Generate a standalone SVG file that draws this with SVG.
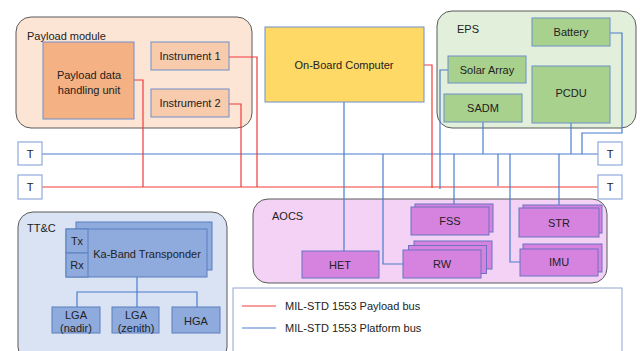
<svg xmlns="http://www.w3.org/2000/svg" width="640" height="351" viewBox="0 0 640 351">
<style>
text{font-family:"Liberation Sans",Arial,sans-serif;font-size:11px;fill:#222;}
.c{text-anchor:middle;dominant-baseline:central;}
.grp{stroke:#5a5a5a;stroke-width:1;}
.box{stroke:#6f8fc8;stroke-width:1;}
.r{stroke:#f23a3a;stroke-width:1.2;fill:none;}
.b{stroke:#4a7cce;stroke-width:1.2;fill:none;}
.pl{fill:#f8cbad;}
.eps{fill:#a9d18e;}
.ao{fill:#d683df;stroke:#6a72c4;}
.tt{fill:#8faadc;stroke:#5b7fc0;}
.t{fill:#fff;stroke:#8faadc;stroke-width:1.2;}
</style>
<rect width="640" height="351" fill="#fff"/>

<g id="payload-module">
<rect class="grp" x="16" y="17" width="236" height="111" rx="15" fill="#fde5d6"/>
<text x="27" y="36" dominant-baseline="central">Payload module</text>
</g>
<g id="eps">
<rect class="grp" x="437" y="11" width="199" height="117" rx="15" fill="#e2efda"/>
<text x="457" y="29" dominant-baseline="central">EPS</text>
</g>
<g id="aocs">
<rect class="grp" x="253" y="199" width="354" height="84" rx="15" fill="#f3d2f6"/>
<text x="272" y="216" dominant-baseline="central">AOCS</text>
</g>
<g id="ttc">
<rect class="grp" x="18" y="212" width="209" height="150" rx="15" fill="#dae3f3"/>
<text x="27" y="228" dominant-baseline="central">TT&amp;C</text>
</g>

<g id="connectors">
<!-- buses -->
<line class="b" x1="42" y1="154" x2="598" y2="154"/>
<line class="r" x1="42" y1="187" x2="598" y2="187"/>
<!-- payload bus -->
<polyline class="r" points="134,80 143,80 143,187"/>
<polyline class="r" points="229,57 257,57 257,187"/>
<polyline class="r" points="229,104 241,104 241,187"/>
<polyline class="r" points="424,65 432,65 432,188"/>
<!-- platform bus -->
<line class="b" x1="344" y1="102" x2="344" y2="251"/>
<polyline class="b" points="448,70 440,70 440,189"/>
<polyline class="b" points="610,33 622,33 622,133 582,133 582,154"/>
<line class="b" x1="571" y1="123" x2="571" y2="154"/>
<line class="b" x1="483" y1="122" x2="483" y2="154"/>
<line class="b" x1="498" y1="154" x2="498" y2="186"/>
<line class="b" x1="454" y1="154" x2="454" y2="204"/>
<line class="b" x1="559" y1="154" x2="559" y2="205"/>
<polyline class="b" points="383,154 383,264 403,264"/>
<polyline class="b" points="510,154 510,262 520,262"/>
<!-- TT&C -->
<line class="b" x1="137" y1="277" x2="137" y2="307" stroke-width="0.8"/>
<polyline class="b" points="77,307 77,292 197,292 197,307" stroke-width="0.8"/>
</g>

<g id="pdhu"><rect class="box" x="43" y="42" width="91" height="77" fill="#f4b183"/>
<text class="c" x="89" y="75">Payload data</text><text class="c" x="89" y="90">handling unit</text></g>
<g id="instrument-1"><rect class="box pl" x="151" y="42" width="78" height="28"/><text class="c" x="190" y="56">Instrument 1</text></g>
<g id="instrument-2"><rect class="box pl" x="151" y="89" width="78" height="28"/><text class="c" x="190" y="103">Instrument 2</text></g>

<g id="obc"><rect class="box" x="265" y="27" width="159" height="75" fill="#ffd966"/><text class="c" x="344" y="65">On-Board Computer</text></g>

<g id="battery"><rect class="box eps" x="532" y="18" width="78" height="28"/><text class="c" x="571" y="32">Battery</text></g>
<g id="solar-array"><rect class="box eps" x="448" y="56" width="78" height="27"/><text class="c" x="487" y="70">Solar Array</text></g>
<g id="sadm"><rect class="box eps" x="444" y="94" width="78" height="28"/><text class="c" x="483" y="108">SADM</text></g>
<g id="pcdu"><rect class="box eps" x="532" y="66" width="78" height="57"/><text class="c" x="571" y="93">PCDU</text></g>

<g id="t-left-1"><rect class="t" x="18" y="142" width="24" height="23"/><text class="c" x="30" y="154">T</text></g>
<g id="t-left-2"><rect class="t" x="18" y="175" width="24" height="24"/><text class="c" x="30" y="187">T</text></g>
<g id="t-right-1"><rect class="t" x="598" y="142" width="24" height="23"/><text class="c" x="610" y="154">T</text></g>
<g id="t-right-2"><rect class="t" x="598" y="175" width="24" height="24"/><text class="c" x="610" y="187">T</text></g>

<g id="het"><rect class="ao" x="302" y="251" width="77" height="27"/><text class="c" x="340" y="265">HET</text></g>
<g id="fss"><rect class="ao" x="415" y="204" width="78" height="28"/><rect class="ao" x="411" y="207" width="78" height="28"/><text class="c" x="450" y="221">FSS</text></g>
<g id="rw"><rect class="ao" x="414" y="241" width="78" height="28"/><rect class="ao" x="408.5" y="245.5" width="78" height="28"/><rect class="ao" x="403" y="250" width="78" height="28"/><text class="c" x="442" y="264">RW</text></g>
<g id="str"><rect class="ao" x="523" y="205" width="79" height="28"/><rect class="ao" x="519" y="208" width="80" height="29"/><text class="c" x="559" y="223">STR</text></g>
<g id="imu"><rect class="ao" x="523" y="244" width="79" height="28"/><rect class="ao" x="520" y="249" width="78" height="27"/><text class="c" x="559" y="262">IMU</text></g>

<g id="ka-band-transponder">
<rect class="tt" x="76" y="222" width="136" height="48"/>
<rect class="tt" x="66" y="229" width="141" height="48"/>
<rect class="tt" x="66" y="229" width="22" height="24"/>
<rect class="tt" x="66" y="253" width="22" height="24"/>
<text class="c" x="77" y="241">Tx</text><text class="c" x="77" y="265">Rx</text>
<text class="c" x="147" y="254">Ka-Band Transponder</text>
</g>
<g id="lga-nadir"><rect class="tt" x="52" y="307" width="48" height="26"/><text class="c" x="76" y="315">LGA</text><text class="c" x="76" y="328">(nadir)</text></g>
<g id="lga-zenith"><rect class="tt" x="112" y="307" width="47" height="26"/><text class="c" x="136" y="315">LGA</text><text class="c" x="136" y="328">(zenith)</text></g>
<g id="hga"><rect class="tt" x="172" y="307" width="48" height="26"/><text class="c" x="196" y="321">HGA</text></g>

<g id="legend">
<rect x="233" y="288" width="389" height="70" fill="#fff" stroke="#8fa6d0" stroke-width="1"/>
<line class="r" x1="242" y1="306" x2="276" y2="306"/>
<text x="285" y="306" dominant-baseline="central">MIL-STD 1553 Payload bus</text>
<line class="b" x1="242" y1="328" x2="276" y2="328" stroke="#2a6fd6"/>
<text x="285" y="328" dominant-baseline="central">MIL-STD 1553 Platform bus</text>
</g>
</svg>
